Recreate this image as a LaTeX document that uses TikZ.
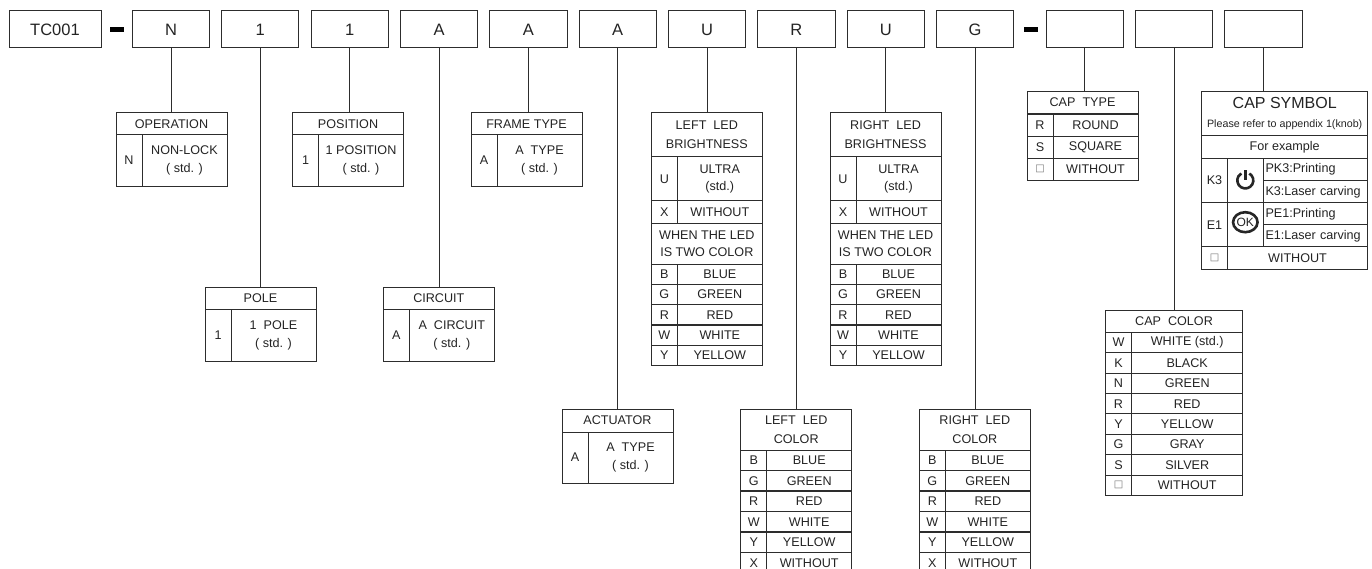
\documentclass[tikz,border=0pt]{standalone}
\usepackage{fontspec}
\usetikzlibrary{shapes.geometric}
\setmainfont{Liberation Sans}
\newfontfamily\symfont{DejaVu Sans}
\definecolor{ln_gray}{RGB}{45, 45, 45}
\definecolor{tx_gray}{RGB}{35, 35, 35}
\tikzstyle{cl}=[rectangle,draw=ln_gray,text=tx_gray,line width=1pt,inner sep=0pt,align=center,
  font=\fontsize{12.6}{18.5}\selectfont]
\tikzstyle{top}=[cl,minimum width=77.3pt,minimum height=37pt,font=\fontsize{16.5}{18}\selectfont]
\tikzstyle{hy}=[rectangle,fill=black,inner sep=0pt,minimum width=14pt,minimum height=4.6pt]
\tikzstyle{hd}=[cl,minimum width=111pt]
\tikzstyle{ky}=[cl,minimum width=26pt]
\tikzstyle{vl}=[cl,minimum width=85pt]
\tikzstyle{pt}=[cl,inner xsep=2.2pt,text width=100pt,align=left,minimum height=22.2pt,
  text height=9pt,text depth=2pt]
\tikzstyle{tp}=[draw=ln_gray,line width=1pt]
\tikzstyle{ic}=[draw=black!85,line width=2.6pt]
\newcommand{\squarebox}{{\symfont\color{black!55}\fontsize{10}{12}\selectfont □}}

\begin{document}
\begin{tikzpicture}[x=1pt, y=-1pt]
            \useasboundingbox (0, 0) rectangle (1372, 569);
            \clip (0, 0) rectangle (1372, 569);
            % part number row
            \node [style=top, minimum width=92pt] (0) at (55, 29.5) {TC001};
            \node [style=top] (1) at (171, 29.5) {N};
            \node [style=top] (2) at (260.3, 29.5) {1};
            \node [style=top] (3) at (349.7, 29.5) {1};
            \node [style=top] (4) at (439, 29.5) {A};
            \node [style=top] (5) at (528.4, 29.5) {A};
            \node [style=top] (6) at (617.7, 29.5) {A};
            \node [style=top] (7) at (707, 29.5) {U};
            \node [style=top] (8) at (796.4, 29.5) {R};
            \node [style=top] (9) at (885.7, 29.5) {U};
            \node [style=top] (10) at (975.1, 29.5) {G};
            \node [style=top] (11) at (1084.8, 29.5) {};
            \node [style=top] (12) at (1174.1, 29.5) {};
            \node [style=top] (13) at (1263.4, 29.5) {};
            \node [style=hy] (14) at (117, 29.5) {};
            \node [style=hy] (15) at (1031, 29.5) {};
            % operation
            \node [style=hd, minimum height=22pt] (20) at (171.5, 123.7) {OPERATION};
            \node [style=ky, minimum height=51.6pt] (21) at (129, 160.5) {N};
            \node [style=vl, minimum height=51.6pt] (22) at (184.5, 160.5) {NON-LOCK\\( std. )};
            % position
            \node [style=hd, minimum height=22pt] (23) at (348, 123.7) {POSITION};
            \node [style=ky, minimum height=51.6pt] (24) at (305.5, 160.5) {1};
            \node [style=vl, minimum height=51.6pt] (25) at (361, 160.5) {1 POSITION\\( std. )};
            % frame type
            \node [style=hd, minimum height=22pt] (26) at (526.5, 123.7) {FRAME TYPE};
            \node [style=ky, minimum height=51.6pt] (27) at (484, 160.5) {A};
            \node [style=vl, minimum height=51.6pt] (28) at (539.5, 160.5) {A\ \ TYPE\\( std. )};
            % pole
            \node [style=hd, minimum height=22.4pt] (29) at (260.5, 298.5) {POLE};
            \node [style=ky, minimum height=51.6pt] (30) at (218, 335.5) {1};
            \node [style=vl, minimum height=51.6pt] (31) at (273.5, 335.5) {1\ \ POLE\\( std. )};
            % circuit
            \node [style=hd, minimum height=22.4pt] (32) at (438.8, 298.5) {CIRCUIT};
            \node [style=ky, minimum height=51.6pt] (33) at (396.3, 335.5) {A};
            \node [style=vl, minimum height=51.6pt] (34) at (451.8, 335.5) {A\ \ CIRCUIT\\( std. )};
            % actuator
            \node [style=hd, minimum height=22.7pt] (35) at (617.5, 420.65) {ACTUATOR};
            \node [style=ky, minimum height=51pt] (36) at (575, 457.5) {A};
            \node [style=vl, minimum height=51pt] (37) at (630.5, 457.5) {A\ \ TYPE\\( std. )};
            % left led brightness
            \node [style=hd, minimum height=44pt] (40) at (706.8, 134.7) {LEFT\ \ LED\\BRIGHTNESS};
            \node [style=ky, minimum height=44.3pt] (41) at (664.3, 178.85) {U};
            \node [style=vl, minimum height=44.3pt] (42) at (719.8, 178.85) {ULTRA\\[-2pt](std.)};
            \node [style=ky, minimum height=22.3pt] (43) at (664.3, 212.15) {X};
            \node [style=vl, minimum height=22.3pt] (44) at (719.8, 212.15) {WITHOUT};
            \node [style=hd, minimum height=40.7pt] (45) at (706.8, 243.65) {WHEN THE LED\\[-2pt]IS TWO COLOR};
            \node [style=ky, minimum height=20.4pt] (46) at (664.3, 274.2) {B};
            \node [style=vl, minimum height=20.4pt] (47) at (719.8, 274.2) {BLUE};
            \node [style=ky, minimum height=20.4pt] (48) at (664.3, 294.55) {G};
            \node [style=vl, minimum height=20.4pt] (49) at (719.8, 294.55) {GREEN};
            \node [style=ky, minimum height=20.4pt] (50) at (664.3, 314.85) {R};
            \node [style=vl, minimum height=20.4pt] (51) at (719.8, 314.85) {RED};
            \node [style=ky, minimum height=20.4pt] (52) at (664.3, 335.15) {W};
            \node [style=vl, minimum height=20.4pt] (53) at (719.8, 335.15) {WHITE};
            \node [style=ky, minimum height=20.4pt] (54) at (664.3, 355.5) {Y};
            \node [style=vl, minimum height=20.4pt] (55) at (719.8, 355.5) {YELLOW};
            % right led brightness
            \node [style=hd, minimum height=44pt] (60) at (885.5, 134.7) {RIGHT\ \ LED\\BRIGHTNESS};
            \node [style=ky, minimum height=44.3pt] (61) at (843, 178.85) {U};
            \node [style=vl, minimum height=44.3pt] (62) at (898.5, 178.85) {ULTRA\\[-2pt](std.)};
            \node [style=ky, minimum height=22.3pt] (63) at (843, 212.15) {X};
            \node [style=vl, minimum height=22.3pt] (64) at (898.5, 212.15) {WITHOUT};
            \node [style=hd, minimum height=40.7pt] (65) at (885.5, 243.65) {WHEN THE LED\\[-2pt]IS TWO COLOR};
            \node [style=ky, minimum height=20.4pt] (66) at (843, 274.2) {B};
            \node [style=vl, minimum height=20.4pt] (67) at (898.5, 274.2) {BLUE};
            \node [style=ky, minimum height=20.4pt] (68) at (843, 294.55) {G};
            \node [style=vl, minimum height=20.4pt] (69) at (898.5, 294.55) {GREEN};
            \node [style=ky, minimum height=20.4pt] (70) at (843, 314.85) {R};
            \node [style=vl, minimum height=20.4pt] (71) at (898.5, 314.85) {RED};
            \node [style=ky, minimum height=20.4pt] (72) at (843, 335.15) {W};
            \node [style=vl, minimum height=20.4pt] (73) at (898.5, 335.15) {WHITE};
            \node [style=ky, minimum height=20.4pt] (74) at (843, 355.5) {Y};
            \node [style=vl, minimum height=20.4pt] (75) at (898.5, 355.5) {YELLOW};
            % left led color
            \node [style=hd, minimum height=40.7pt] (80) at (796.2, 429.65) {LEFT\ \ LED\\COLOR};
            \node [style=ky, minimum height=20.5pt] (81) at (753.7, 460.25) {B};
            \node [style=vl, minimum height=20.5pt] (82) at (809.2, 460.25) {BLUE};
            \node [style=ky, minimum height=20.5pt] (83) at (753.7, 480.75) {G};
            \node [style=vl, minimum height=20.5pt] (84) at (809.2, 480.75) {GREEN};
            \node [style=ky, minimum height=20.5pt] (85) at (753.7, 501.2) {R};
            \node [style=vl, minimum height=20.5pt] (86) at (809.2, 501.2) {RED};
            \node [style=ky, minimum height=20.5pt] (87) at (753.7, 521.7) {W};
            \node [style=vl, minimum height=20.5pt] (88) at (809.2, 521.7) {WHITE};
            \node [style=ky, minimum height=20.5pt] (89) at (753.7, 542.3) {Y};
            \node [style=vl, minimum height=20.5pt] (90) at (809.2, 542.3) {YELLOW};
            \node [style=ky, minimum height=20.5pt] (91) at (753.7, 562.8) {X};
            \node [style=vl, minimum height=20.5pt] (92) at (809.2, 562.8) {WITHOUT};
            % right led color
            \node [style=hd, minimum height=40.7pt] (100) at (974.8, 429.65) {RIGHT\ \ LED\\COLOR};
            \node [style=ky, minimum height=20.5pt] (101) at (932.3, 460.25) {B};
            \node [style=vl, minimum height=20.5pt] (102) at (987.8, 460.25) {BLUE};
            \node [style=ky, minimum height=20.5pt] (103) at (932.3, 480.75) {G};
            \node [style=vl, minimum height=20.5pt] (104) at (987.8, 480.75) {GREEN};
            \node [style=ky, minimum height=20.5pt] (105) at (932.3, 501.2) {R};
            \node [style=vl, minimum height=20.5pt] (106) at (987.8, 501.2) {RED};
            \node [style=ky, minimum height=20.5pt] (107) at (932.3, 521.7) {W};
            \node [style=vl, minimum height=20.5pt] (108) at (987.8, 521.7) {WHITE};
            \node [style=ky, minimum height=20.5pt] (109) at (932.3, 542.3) {Y};
            \node [style=vl, minimum height=20.5pt] (110) at (987.8, 542.3) {YELLOW};
            \node [style=ky, minimum height=20.5pt] (111) at (932.3, 562.8) {X};
            \node [style=vl, minimum height=20.5pt] (112) at (987.8, 562.8) {WITHOUT};
            % cap type
            \node [style=hd, minimum height=22.7pt] (120) at (1082.5, 102.65) {CAP\ \ TYPE};
            \node [style=ky, minimum height=22pt] (121) at (1040, 125.1) {R};
            \node [style=vl, minimum height=22pt] (122) at (1095.5, 125.1) {ROUND};
            \node [style=ky, minimum height=22pt] (123) at (1040, 147.2) {S};
            \node [style=vl, minimum height=22pt] (124) at (1095.5, 147.2) {SQUARE};
            \node [style=ky, minimum height=22pt] (125) at (1040, 169.3) {\squarebox};
            \node [style=vl, minimum height=22pt] (126) at (1095.5, 169.3) {WITHOUT};
            % cap color
            \node [style=hd, minimum width=137.4pt, minimum height=22pt] (130) at (1174, 321.3) {CAP\ \ COLOR};
            \node [style=ky, minimum height=20.4pt] (131) at (1118.5, 342.5) {W};
            \node [style=vl, minimum width=111.4pt, minimum height=20.4pt] (132) at (1187.2, 342.5) {WHITE (std.)};
            \node [style=ky, minimum height=20.4pt] (133) at (1118.5, 362.9) {K};
            \node [style=vl, minimum width=111.4pt, minimum height=20.4pt] (134) at (1187.2, 362.9) {BLACK};
            \node [style=ky, minimum height=20.4pt] (135) at (1118.5, 383.3) {N};
            \node [style=vl, minimum width=111.4pt, minimum height=20.4pt] (136) at (1187.2, 383.3) {GREEN};
            \node [style=ky, minimum height=20.4pt] (137) at (1118.5, 403.7) {R};
            \node [style=vl, minimum width=111.4pt, minimum height=20.4pt] (138) at (1187.2, 403.7) {RED};
            \node [style=ky, minimum height=20.4pt] (139) at (1118.5, 424.1) {Y};
            \node [style=vl, minimum width=111.4pt, minimum height=20.4pt] (140) at (1187.2, 424.1) {YELLOW};
            \node [style=ky, minimum height=20.4pt] (141) at (1118.5, 444.5) {G};
            \node [style=vl, minimum width=111.4pt, minimum height=20.4pt] (142) at (1187.2, 444.5) {GRAY};
            \node [style=ky, minimum height=20.4pt] (143) at (1118.5, 464.9) {S};
            \node [style=vl, minimum width=111.4pt, minimum height=20.4pt] (144) at (1187.2, 464.9) {SILVER};
            \node [style=ky, minimum height=20.4pt] (145) at (1118.5, 485.3) {\squarebox};
            \node [style=vl, minimum width=111.4pt, minimum height=20.4pt] (146) at (1187.2, 485.3) {WITHOUT};
            % cap symbol
            \node [style=hd, minimum width=166pt, minimum height=44.7pt] (150) at (1284.7, 113.65)
                {{\fontsize{16}{18}\selectfont CAP SYMBOL}\\[1pt]{\fontsize{10.7}{12}\selectfont Please refer to appendix 1(knob)}};
            \node [style=hd, minimum width=166pt, minimum height=22.3pt] (151) at (1284.7, 147.15) {For example};
            \node [style=ky, minimum width=25.6pt, minimum height=44.4pt] (152) at (1214.5, 180.5) {K3};
            \node [style=ky, minimum width=36pt, minimum height=44.4pt] (153) at (1245.3, 180.5) {};
            \node [style=pt] (154) at (1315.5, 169.35) {PK3:Printing};
            \node [style=pt] (155) at (1315.5, 191.55) {K3:Laser carving};
            \node [style=ky, minimum width=25.6pt, minimum height=44.3pt] (156) at (1214.5, 224.85) {E1};
            \node [style=ky, minimum width=36pt, minimum height=44.3pt] (157) at (1245.3, 224.85) {};
            \node [style=pt] (158) at (1315.5, 213.7) {PE1:Printing};
            \node [style=pt] (159) at (1315.5, 235.85) {E1:Laser carving};
            \node [style=ky, minimum width=25.6pt, minimum height=22pt] (160) at (1214.5, 258) {\squarebox};
            \node [style=vl, minimum width=140.4pt, minimum height=22pt] (161) at (1297.5, 258) {WITHOUT};
            % knob symbols
            \draw [style=ic] (153.center) ++(4, -7) arc [start angle=-60, end angle=240, radius=8];
            \draw [style=ic, line width=3pt] (153.center) ++(0, -10) to ++(0, 10);
            \node [style=cl, ellipse, draw=black!85, line width=2.6pt, minimum width=24pt, minimum height=20pt,
              font=\fontsize{12}{12}\selectfont] (162) at (1245.3, 222.2) {OK};
            % leaders
            \draw [style=tp] (1.south) to (1.south |- 20.north);
            \draw [style=tp] (2.south) to (2.south |- 29.north);
            \draw [style=tp] (3.south) to (3.south |- 23.north);
            \draw [style=tp] (4.south) to (4.south |- 32.north);
            \draw [style=tp] (5.south) to (5.south |- 26.north);
            \draw [style=tp] (6.south) to (6.south |- 35.north);
            \draw [style=tp] (7.south) to (7.south |- 40.north);
            \draw [style=tp] (8.south) to (8.south |- 80.north);
            \draw [style=tp] (9.south) to (9.south |- 60.north);
            \draw [style=tp] (10.south) to (10.south |- 100.north);
            \draw [style=tp] (11.south) to (11.south |- 120.north);
            \draw [style=tp] (12.south) to (12.south |- 130.north);
            \draw [style=tp] (13.south) to (13.south |- 150.north);
    \end{tikzpicture}
\end{document}
